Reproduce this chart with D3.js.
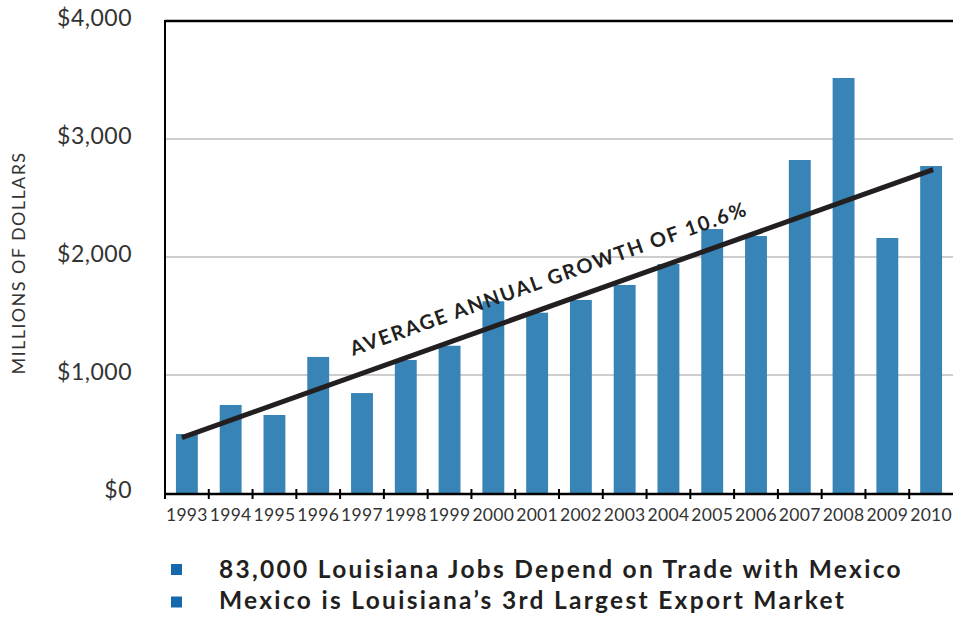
<!DOCTYPE html>
<html>
<head>
<meta charset="utf-8">
<script src="https://cdn.jsdelivr.net/npm/d3@7"></script>
<style>
  body { margin: 0; background: #fff; }
  svg { display: block; font-family: Lato, "Open Sans", sans-serif; }
</style>
</head>
<body>
<script>
const w = 953;
const h = 617;

// Louisiana exports to Mexico, millions of dollars
const years = ["1993", "1994", "1995", "1996", "1997", "1998", "1999", "2000", "2001",
  "2002", "2003", "2004", "2005", "2006", "2007", "2008", "2009", "2010"];
const exportsMil = [500, 746, 661, 1153, 847, 1127, 1248, 1625, 1528,
  1636, 1763, 1941, 2237, 2178, 2822, 3517, 2161, 2771];
const yTicks = [0, 1000, 2000, 3000, 4000];
const trendEnds = [470, 2740];   // trend line value at 1993 and 2010
const trendLabel = "AVERAGE ANNUAL GROWTH OF 10.6%";
const notes = ["83,000 Louisiana Jobs Depend on Trade with Mexico",
  "Mexico is Louisiana\u2019s 3rd Largest Export Market"];

const plot = { left: 165, right: 953, top: 21, bottom: 493 };

const svg = d3.select("body")
  .append("svg")
  .attr("width", w)
  .attr("height", h);

const x = d3.scaleBand()
  .domain(years)
  .range([plot.left, plot.right])
  .paddingInner(0.5)
  .paddingOuter(0.25);

const y = d3.scaleLinear()
  .domain([0, 4000])
  .range([plot.bottom, plot.top]);

// gridlines
svg.append("g")
  .selectAll("line")
  .data(yTicks.filter(d => d > 0 && d < 4000))
  .enter()
  .append("line")
  .attr("x1", plot.left)
  .attr("x2", plot.right)
  .attr("y1", d => y(d))
  .attr("y2", d => y(d))
  .style("stroke", "#bdbdbd")
  .style("stroke-width", 1.5);

// bars
svg.append("g")
  .selectAll("rect")
  .data(years)
  .enter()
  .append("rect")
  .attr("x", d => x(d))
  .attr("y", (d, i) => y(exportsMil[i]))
  .attr("width", x.bandwidth())
  .attr("height", (d, i) => y(0) - y(exportsMil[i]))
  .style("fill", "#3884b6");

// frame: top line, left axis, bottom axis
svg.append("line")
  .attr("x1", plot.left).attr("x2", plot.right)
  .attr("y1", y(4000)).attr("y2", y(4000))
  .style("stroke", "#000").style("stroke-width", 2.5);
svg.append("line")
  .attr("x1", plot.left).attr("x2", plot.left)
  .attr("y1", y(4000) - 1).attr("y2", y(0))
  .style("stroke", "#000").style("stroke-width", 2);
svg.append("line")
  .attr("x1", plot.left).attr("x2", plot.right)
  .attr("y1", y(0) + 1).attr("y2", y(0) + 1)
  .style("stroke", "#000").style("stroke-width", 2.5);

// x ticks at band boundaries
const step = x.step();
const x0 = x.range()[0];
svg.append("g")
  .selectAll("line")
  .data(d3.range(years.length))
  .enter()
  .append("line")
  .attr("x1", i => x0 + i * step)
  .attr("x2", i => x0 + i * step)
  .attr("y1", y(0) - 4)
  .attr("y2", y(0) + 6)
  .style("stroke", "#000")
  .style("stroke-width", 2);

svg.append("g")
  .selectAll("text")
  .data(years)
  .enter()
  .append("text")
  .attr("x", d => x(d) + x.bandwidth() / 2)
  .attr("y", 521)
  .attr("text-anchor", "middle")
  .style("font-size", "17.5px")
  .style("letter-spacing", "0.3px")
  .style("fill", "#333")
  .text(d => d);

// y tick labels
svg.append("g")
  .selectAll("text")
  .data(yTicks)
  .enter()
  .append("text")
  .attr("x", 132)
  .attr("y", d => y(d) + 5)
  .attr("text-anchor", "end")
  .style("font-size", "23px")
  .style("letter-spacing", "0.5px")
  .style("fill", "#333")
  .text(d => "$" + d3.format(",")(d));

svg.append("text")
  .attr("transform", `translate(25, ${(plot.top + plot.bottom) / 2 + 6}) rotate(-90)`)
  .attr("text-anchor", "middle")
  .style("font-size", "18px")
  .style("letter-spacing", "1.4px")
  .style("fill", "#333")
  .text("MILLIONS OF DOLLARS");

// trend line
const tx1 = x(years[0]) + x.bandwidth() / 2 - 5;
const tx2 = x(years[years.length - 1]) + x.bandwidth() / 2 + 2;
svg.append("line")
  .attr("x1", tx1).attr("y1", y(trendEnds[0]))
  .attr("x2", tx2).attr("y2", y(trendEnds[1]))
  .style("stroke", "#231f20")
  .style("stroke-width", 5);

const angle = Math.atan2(y(trendEnds[1]) - y(trendEnds[0]), tx2 - tx1) * 180 / Math.PI;
svg.append("text")
  .attr("transform", `translate(353, 356) rotate(${angle})`)
  .style("font-size", "20px")
  .style("font-weight", "bold")
  .style("letter-spacing", "1.8px")
  .style("fill", "#231f20")
  .text(trendLabel);

// notes
const notesG = svg.append("g");
notesG.selectAll("rect")
  .data(notes)
  .enter()
  .append("rect")
  .attr("x", 171)
  .attr("y", (d, i) => 564 + i * 32.5)
  .attr("width", 11)
  .attr("height", 11)
  .style("fill", "#1668ad");
notesG.selectAll("text")
  .data(notes)
  .enter()
  .append("text")
  .attr("x", 219)
  .attr("y", (d, i) => 578 + i * 30.5)
  .style("font-size", "24.5px")
  .style("font-weight", "bold")
  .style("letter-spacing", "2.3px")
  .style("fill", "#231f20")
  .text(d => d);
</script>
</body>
</html>
